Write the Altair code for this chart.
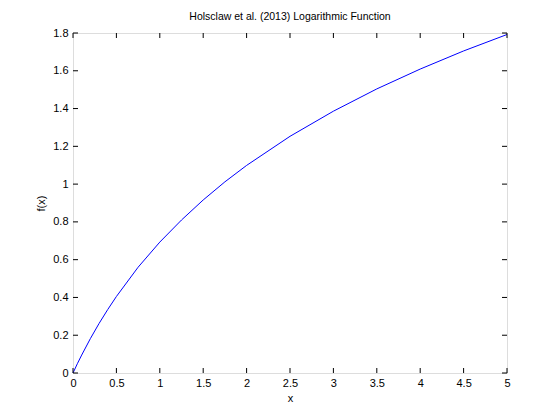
import altair as alt
import pandas as pd

# values
xs = [0, 0.05, 0.1, 0.2, 0.3, 0.4, 0.5, 0.75, 1.0, 1.25, 1.5, 1.75, 2.0, 2.5, 3.0, 3.5, 4.0, 4.5, 5.0]
ys = [0, 0.049, 0.095, 0.182, 0.262, 0.336, 0.405, 0.56, 0.693, 0.81, 0.916, 1.012, 1.099, 1.253, 1.386, 1.504, 1.609, 1.705, 1.792]

x_ticks = [0, 0.5, 1, 1.5, 2, 2.5, 3, 3.5, 4, 4.5, 5]
y_ticks = [0, 0.2, 0.4, 0.6, 0.8, 1, 1.2, 1.4, 1.6, 1.8]

W, H = 434, 340
FONT = "Liberation Sans"

df = pd.DataFrame({"x": xs, "y": ys})
xt = pd.DataFrame({"t": x_ticks})
yt = pd.DataFrame({"t": y_ticks})

xscale = alt.Scale(domain=[0, 5], nice=False, zero=False)
yscale = alt.Scale(domain=[0, 1.8], nice=False, zero=False)

xaxis = alt.Axis(values=x_ticks, ticks=False, domain=False, grid=False,
                 format="~g", labelOverlap=False,
                 labelPadding=4, labelFontSize=11, labelFont=FONT,
                 titleFont=FONT, titleFontSize=11, titleFontWeight="normal",
                 titlePadding=4, labelColor="black", titleColor="black",
                 labelFlush=False)
yaxis = alt.Axis(values=y_ticks, ticks=False, domain=False, grid=False,
                 format="~g", labelOverlap=False,
                 labelPadding=5, labelFontSize=11, labelFont=FONT,
                 titleFont=FONT, titleFontSize=11, titleFontWeight="normal",
                 titlePadding=6, labelColor="black", titleColor="black",
                 labelFlush=False)

line = alt.Chart(df).mark_line(color="#0000ff", strokeWidth=1).encode(
    x=alt.X("x:Q", scale=xscale, title="x", axis=xaxis),
    y=alt.Y("y:Q", scale=yscale, title="f(x)", axis=yaxis),
)

tl = 5
bx = alt.Chart(xt).mark_rule(color="black", strokeWidth=1).encode(
    x=alt.X("t:Q", scale=xscale, title="x", axis=xaxis), y=alt.value(H), y2=alt.value(H - tl))
tx = alt.Chart(xt).mark_rule(color="black", strokeWidth=1).encode(
    x=alt.X("t:Q", scale=xscale, title="x", axis=xaxis), y=alt.value(0), y2=alt.value(tl))
ly = alt.Chart(yt).mark_rule(color="black", strokeWidth=1).encode(
    y=alt.Y("t:Q", scale=yscale, title="f(x)", axis=yaxis), x=alt.value(0), x2=alt.value(tl))
ry = alt.Chart(yt).mark_rule(color="black", strokeWidth=1).encode(
    y=alt.Y("t:Q", scale=yscale, title="f(x)", axis=yaxis), x=alt.value(W), x2=alt.value(W - tl))

chart = alt.layer(line, bx, tx, ly, ry).properties(
    width=W, height=H,
    title=alt.TitleParams("Holsclaw et al. (2013) Logarithmic Function",
                          font=FONT, fontSize=10.5, fontWeight="normal",
                          color="black", offset=5),
    autosize=alt.AutoSizeParams(type="none"),
    padding={"left": 65, "top": 25, "right": 45, "bottom": 40},
).configure_view(stroke="black", strokeWidth=1).configure(background="white")

chart.save("out.html", embed_options={"renderer": "svg", "actions": False})
